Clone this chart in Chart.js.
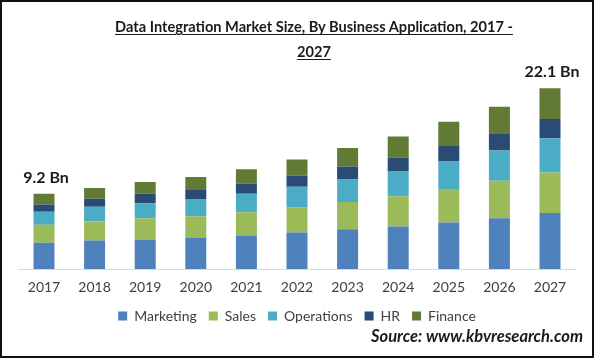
<!DOCTYPE html>
<html>
<head>
<meta charset="utf-8">
<script src="https://cdn.jsdelivr.net/npm/chart.js@4.4.1/dist/chart.umd.min.js"></script>
<style>
  html, body { margin: 0; padding: 0; background: #fff; }
  #wrap { position: relative; width: 594px; height: 358px; overflow: hidden; background: #fff; }
  #c { position: absolute; left: 0; top: 0; }
  #frame { position: absolute; left: 0; top: 0; width: 594px; height: 358px; box-sizing: border-box; border: 2px solid #111; pointer-events: none; }
  #title { position: absolute; left: 0; top: 14px; width: 628px; text-align: center; font-family: Lato, "Open Sans", sans-serif; font-weight: bold; font-size: 14.6px; line-height: 25px; color: #1a1a1a; text-decoration: underline; text-underline-offset: 2px; }
  #source { position: absolute; right: 11px; top: 326px; font-family: Lato, "Open Sans", sans-serif; font-weight: bold; font-style: italic; font-size: 16.5px; color: #1a1a1a; }
</style>
</head>
<body>
<div id="wrap">
  <canvas id="c" width="594" height="358"></canvas>
  <div id="title">Data Integration Market Size, By Business Application, 2017 -<br>2027</div>
  <div id="source">Source: www.kbvresearch.com</div>
  <div id="frame"></div>
</div>
<script>
const years = ['2017','2018','2019','2020','2021','2022','2023','2024','2025','2026','2027'];
const marketing  = [3.2, 3.5, 3.6, 3.85, 4.1, 4.45, 4.85, 5.2, 5.7, 6.2, 6.85];
const sales      = [2.2, 2.35, 2.6, 2.6, 2.85, 3.1, 3.35, 3.7, 4.1, 4.6, 4.95];
const operations = [1.6, 1.75, 1.85, 2.1, 2.25, 2.5, 2.75, 3.1, 3.35, 3.7, 4.2];
const hr         = [0.9, 1.0, 1.15, 1.1, 1.25, 1.35, 1.6, 1.6, 2.0, 2.1, 2.35];
const finance    = [1.3, 1.3, 1.45, 1.6, 1.75, 2.0, 2.25, 2.6, 2.85, 3.25, 3.75];
const endLabels  = { 0: '9.2 Bn', 10: '22.1 Bn' };

const colors = {
  Marketing: '#4f81bd',
  Sales: '#9bbb59',
  Operations: '#4bacc6',
  HR: '#2a4b73',
  Finance: '#617a34'
};

const series = [
  ['Marketing', marketing],
  ['Sales', sales],
  ['Operations', operations],
  ['HR', hr],
  ['Finance', finance]
];

const labelPlugin = {
  id: 'endLabels',
  afterDatasetsDraw(chart) {
    const ctx = chart.ctx;
    const meta = chart.getDatasetMeta(chart.data.datasets.length - 1);
    ctx.save();
    ctx.font = 'bold 16px Lato, "Open Sans", sans-serif';
    ctx.fillStyle = '#1a1a1a';
    ctx.textAlign = 'center';
    ctx.textBaseline = 'middle';
    Object.keys(endLabels).forEach(k => {
      const el = meta.data[+k];
      ctx.fillText(endLabels[k], el.x + 2, el.y - 16);
    });
    ctx.restore();
  }
};

new Chart(document.getElementById('c'), {
  type: 'bar',
  data: {
    labels: years,
    datasets: series.map(([name, vals]) => ({
      label: name,
      data: vals,
      backgroundColor: colors[name],
      borderWidth: 0,
      barPercentage: 0.83,
      categoryPercentage: 0.5
    }))
  },
  options: {
    responsive: false,
    animation: false,
    layout: { padding: { top: 64.6, left: 18.7, right: 18.7, bottom: 25 } },
    plugins: {
      legend: {
        position: 'bottom',
        labels: {
          boxWidth: 9,
          boxHeight: 9,
          padding: 12,
          color: '#404040',
          font: { family: 'Lato, "Open Sans", sans-serif', size: 14 }
        }
      },
      tooltip: { enabled: false },
      title: { display: false }
    },
    scales: {
      x: {
        stacked: true,
        grid: { display: false, drawTicks: false, tickLength: 0 },
        border: { display: true, color: '#d9d9d9', width: 1 },
        ticks: { color: '#404040', padding: 10.5, font: { family: 'Lato, "Open Sans", sans-serif', size: 14 } },
        afterFit(scale) { scale.height = 28; }
      },
      y: {
        stacked: true,
        display: false,
        min: 0,
        max: 25
      }
    }
  },
  plugins: [labelPlugin]
});
</script>
</body>
</html>
